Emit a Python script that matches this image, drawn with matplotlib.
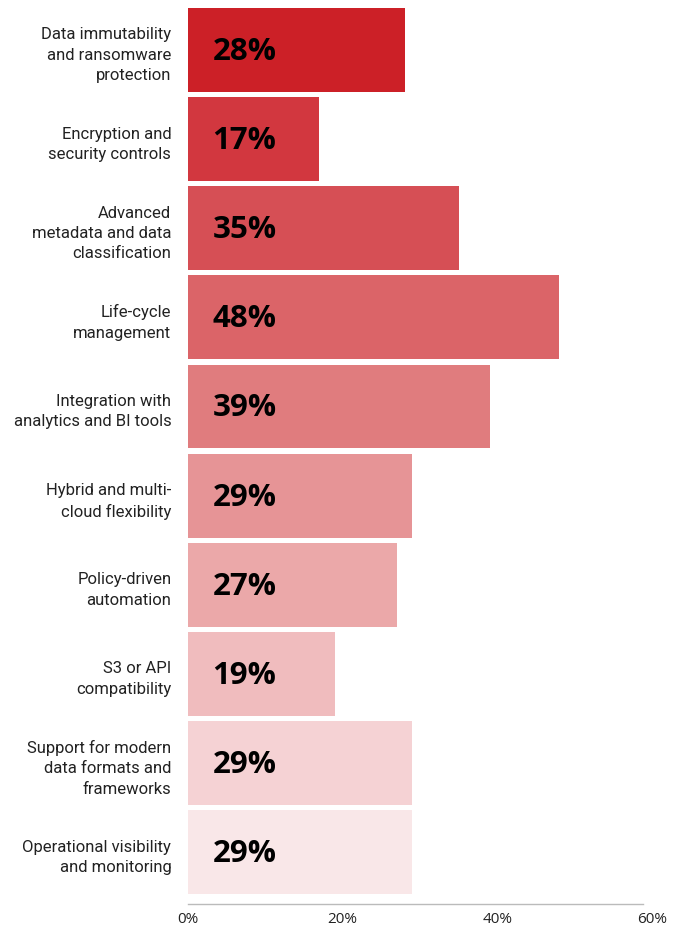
import matplotlib.pyplot as plt

categories = [
    "Data immutability\nand ransomware\nprotection",
    "Encryption and\nsecurity controls",
    "Advanced\nmetadata and data\nclassification",
    "Life-cycle\nmanagement",
    "Integration with\nanalytics and BI tools",
    "Hybrid and multi-\ncloud flexibility",
    "Policy-driven\nautomation",
    "S3 or API\ncompatibility",
    "Support for modern\ndata formats and\nframeworks",
    "Operational visibility\nand monitoring",
]
values = [28, 17, 35, 48, 39, 29, 27, 19, 29, 29]
colors = ["#CC2027", "#D2373F", "#D64F55", "#DB6468", "#E07C7E",
          "#E69496", "#EBA8A9", "#F0BCBE", "#F5D2D4", "#F9E7E8"]
xticks = [0, 20, 40, 60]

fig = plt.figure(figsize=(6.78, 9.29), dpi=100)
ax = fig.add_axes([188 / 678, 24 / 929, 464 / 678, 896 / 929])

ys = list(range(len(values)))
ax.barh(ys, values, height=0.94, color=colors)

for y, v in zip(ys, values):
    ax.text(7.3, y + 0.01, f"{v}%", ha="center", va="center",
            fontsize=22.5, fontweight="bold", family="Open Sans", color="black")

ax.set_ylim(9.58, -0.47)
ax.set_xlim(0, 60)
ax.set_yticks(ys)
ax.set_yticklabels(categories, family="Roboto", fontsize=12,
                   linespacing=1.45, color="#222222")
ax.set_xticks(xticks)
ax.set_xticklabels([f"{t}%" for t in xticks], family="Open Sans",
                   fontsize=11, color="#222222")
ax.tick_params(axis="both", length=0)
ax.tick_params(axis="y", pad=12)
ax.tick_params(axis="x", pad=5)

for s in ["top", "right", "left"]:
    ax.spines[s].set_visible(False)
ax.spines["bottom"].set_color("#BBBBBB")
ax.spines["bottom"].set_linewidth(1)
ax.spines["bottom"].set_bounds(0, 58.8)

fig.savefig("out.png", dpi=100)
